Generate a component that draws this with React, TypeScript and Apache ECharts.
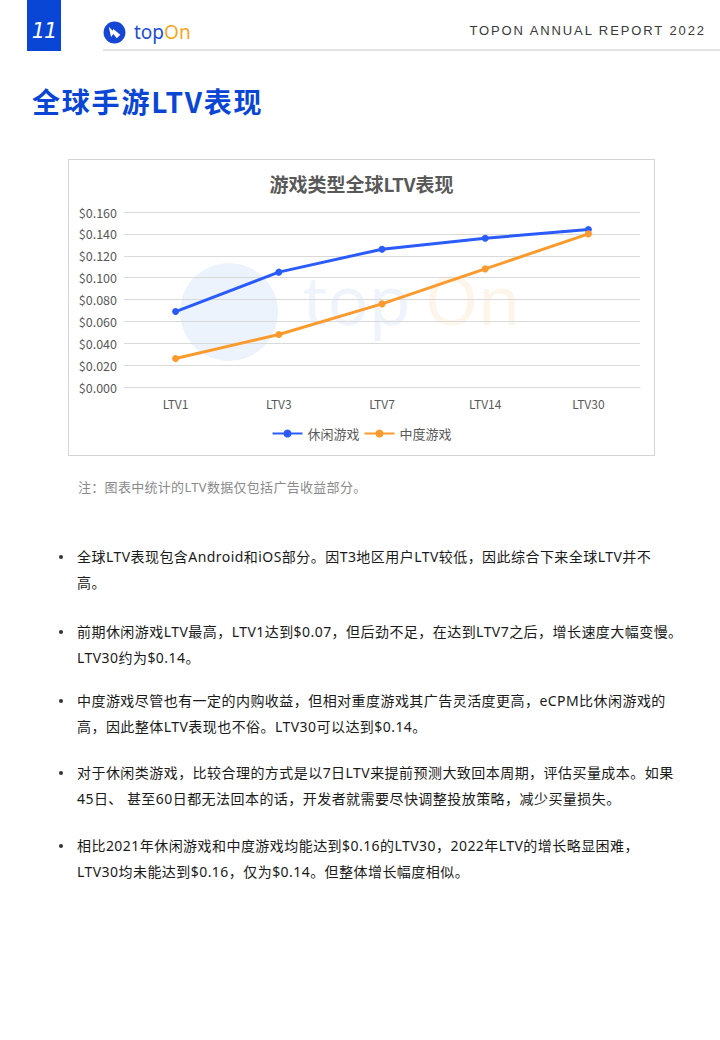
import React, { useEffect, useRef } from "react";
import * as echarts from "echarts";

const categories = ["LTV1", "LTV3", "LTV7", "LTV14", "LTV30"];
const casualValues = [0.069, 0.105, 0.126, 0.136, 0.144];
const midcoreValues = [0.026, 0.048, 0.076, 0.108, 0.14];
const seriesNames = ["休闲游戏", "中度游戏"];
const chartTitle = "游戏类型全球LTV表现";

const pageTitle = "全球手游LTV表现";
const noteText = "注：图表中统计的LTV数据仅包括广告收益部分。";
const bullets: { top: number; lines: string[] }[] = [
  { top: 546, lines: ["全球LTV表现包含Android和iOS部分。因T3地区用户LTV较低，因此综合下来全球LTV并不", "高。"] },
  { top: 621, lines: ["前期休闲游戏LTV最高，LTV1达到$0.07，但后劲不足，在达到LTV7之后，增长速度大幅变慢。", "LTV30约为$0.14。"] },
  { top: 690, lines: ["中度游戏尽管也有一定的内购收益，但相对重度游戏其广告灵活度更高，eCPM比休闲游戏的", "高，因此整体LTV表现也不俗。LTV30可以达到$0.14。"] },
  { top: 762, lines: ["对于休闲类游戏，比较合理的方式是以7日LTV来提前预测大致回本周期，评估买量成本。如果", "45日、 甚至60日都无法回本的话，开发者就需要尽快调整投放策略，减少买量损失。"] },
  { top: 835, lines: ["相比2021年休闲游戏和中度游戏均能达到$0.16的LTV30，2022年LTV的增长略显困难，", "LTV30均未能达到$0.16，仅为$0.14。但整体增长幅度相似。"] },
];

const CJK = '"Noto Sans CJK SC", "Noto Sans", sans-serif';
const MIXED = '"Noto Sans", "Noto Sans CJK SC", sans-serif';

function Chart() {
  const ref = useRef<HTMLDivElement>(null);
  useEffect(() => {
    if (!ref.current) return;
    const chart = echarts.init(ref.current, undefined, { renderer: "svg" });
    chart.setOption({
      animation: false,
      backgroundColor: "#ffffff",
      textStyle: { fontFamily: CJK },
      title: {
        text: chartTitle,
        left: "center",
        top: 9,
        textStyle: { fontSize: 19, fontWeight: "bold", color: "#595959", fontFamily: CJK },
      },
      graphic: [
        {
          type: "circle",
          z: -10,
          silent: true,
          shape: { cx: 160, cy: 152, r: 49 },
          style: { fill: "#edf3fc" },
        },
        {
          type: "text",
          z: -10,
          silent: true,
          x: 234,
          y: 104,
          style: {
            text: "top",
            font: '68px "Noto Sans", sans-serif',
            fill: "#eef3fc",
          },
        },
        {
          type: "text",
          z: -10,
          silent: true,
          x: 356,
          y: 104,
          style: {
            text: "On",
            font: '68px "Noto Sans", sans-serif',
            fill: "#fdf5ea",
          },
        },
      ],
      legend: {
        bottom: 10,
        left: "center",
        itemWidth: 30,
        itemHeight: 10,
        itemGap: 4,
        textStyle: { fontSize: 13, color: "#595959", fontFamily: CJK },
        data: seriesNames,
      },
      grid: { left: 55, right: 14, top: 52, bottom: 68, containLabel: false },
      xAxis: {
        type: "category",
        data: categories,
        boundaryGap: true,
        axisLine: { show: true, lineStyle: { color: "#d9d9d9" } },
        axisTick: { show: false },
        axisLabel: { color: "#595959", fontSize: 12, margin: 10 },
      },
      yAxis: {
        type: "value",
        min: 0,
        max: 0.16,
        interval: 0.02,
        axisLine: { show: false },
        axisTick: { show: false },
        splitLine: { lineStyle: { color: "#d9d9d9", width: 1 } },
        axisLabel: {
          color: "#595959",
          fontSize: 12.5,
          margin: 7,
          formatter: (v: number) => "$" + v.toFixed(3),
        },
      },
      series: [
        {
          name: seriesNames[0],
          type: "line",
          data: casualValues,
          symbol: "circle",
          symbolSize: 7,
          lineStyle: { width: 3, color: "#2b5cfb" },
          itemStyle: { color: "#2b5cfb" },
        },
        {
          name: seriesNames[1],
          type: "line",
          data: midcoreValues,
          symbol: "circle",
          symbolSize: 7,
          lineStyle: { width: 3, color: "#fb9b2d" },
          itemStyle: { color: "#fb9b2d" },
        },
      ],
    });
    return () => chart.dispose();
  }, []);
  return <div ref={ref} style={{ width: 585, height: 295 }} />;
}

export default function App() {
  return (
    <div
      style={{
        position: "absolute",
        left: 0,
        top: 0,
        width: 720,
        height: 1040,
        background: "#fff",
        overflow: "hidden",
        fontFamily: CJK,
      }}
    >
      {/* page number block */}
      <div
        style={{
          position: "absolute",
          left: 27,
          top: 0,
          width: 34,
          height: 51,
          background: "#0a46d6",
          color: "#fff",
          fontFamily: '"DejaVu Sans", sans-serif',
          fontStyle: "italic",
          fontSize: 21,
          lineHeight: "21px",
          display: "flex",
          alignItems: "flex-start",
          justifyContent: "center",
          paddingTop: 21,
          boxSizing: "border-box",
          letterSpacing: -1,
        }}
      >
        11
      </div>
      {/* logo */}
      <div style={{ position: "absolute", left: 103, top: 20, height: 24, display: "flex", alignItems: "center" }}>
        <svg width="23" height="23" viewBox="0 0 20 20">
          <circle cx="10" cy="10" r="9.5" fill="#1647d4" />
          <path d="M5 5 L10 10 L7 14 Z M9 7 L15 12 L12 15 L8 10 Z" fill="#fff" />
        </svg>
        <span style={{ fontFamily: '"Noto Sans", sans-serif', fontSize: 19, marginLeft: 8, color: "#1a4fd6", lineHeight: "22px" }}>
          top<span style={{ color: "#f6a623" }}>On</span>
        </span>
      </div>
      <div
        style={{
          position: "absolute",
          right: 14,
          top: 23,
          fontFamily: '"Liberation Sans", "DejaVu Sans", sans-serif',
          fontSize: 13,
          letterSpacing: 1.9,
          color: "#3a3a3a",
        }}
      >
        TOPON ANNUAL REPORT 2022
      </div>
      <div style={{ position: "absolute", left: 103, top: 49, width: 617, height: 2, background: "#e3e3e3" }} />

      {/* heading */}
      <div
        style={{
          position: "absolute",
          left: 32,
          top: 83,
          fontSize: 28,
          fontWeight: "bold",
          color: "#0a46d6",
          lineHeight: "36px",
          letterSpacing: 1.8,
          whiteSpace: "nowrap",
        }}
      >
        {pageTitle}
      </div>

      {/* chart box */}
      <div
        style={{
          position: "absolute",
          left: 68,
          top: 159,
          width: 585,
          height: 295,
          border: "1px solid #d4d4d4",
        }}
      >
        <Chart />
      </div>

      {/* note */}
      <div
        style={{
          position: "absolute",
          left: 78,
          top: 478,
          fontSize: 13,
          fontFamily: MIXED,
          color: "#8a8a8a",
          whiteSpace: "nowrap",
          lineHeight: "18px",
          letterSpacing: 0.3,
        }}
      >
        {noteText}
      </div>

      {/* bullets */}
      {bullets.map((b, i) => (
        <div key={i} style={{ position: "absolute", left: 0, top: b.top }}>
          <div
            style={{
              position: "absolute",
              left: 59,
              top: 9,
              width: 4,
              height: 4,
              borderRadius: 2,
              background: "#333",
            }}
          />
          {b.lines.map((l, j) => (
            <div
              key={j}
              style={{
                position: "absolute",
                left: 77,
                top: j * 26,
                fontSize: 14,
                fontFamily: MIXED,
                lineHeight: "22px",
                letterSpacing: 0.45,
                color: "#1a1a1a",
                whiteSpace: "nowrap",
              }}
            >
              {l}
            </div>
          ))}
        </div>
      ))}
    </div>
  );
}
